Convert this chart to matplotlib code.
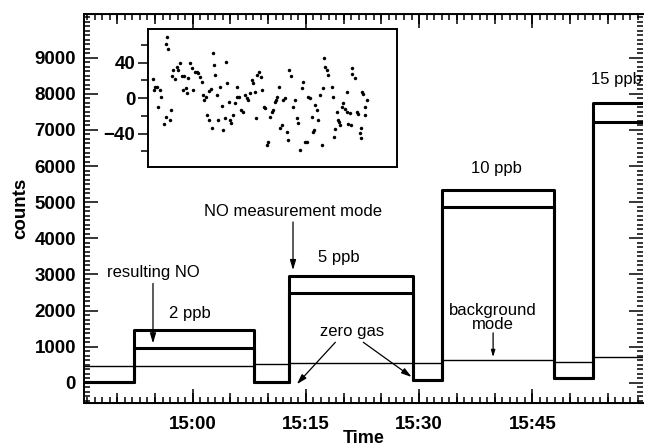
import matplotlib.pyplot as plt
from matplotlib.ticker import MultipleLocator, FuncFormatter

plt.rcParams["font.family"] = ["Liberation Sans", "DejaVu Sans"]

# time in minutes relative to 15:00
x_start = -14.36
x_end = 59.67

# mode segments: start time of each segment (zero gas / NO on alternate)
seg_start = [-14.36, -7.78, 8.16, 12.76, 29.15, 33.07, 47.87, 53.0]
upper = [10, 1450, 20, 2950, 80, 5330, 120, 7740]
lower = [10, 970, 20, 2490, 80, 4870, 120, 7230]
background = [460, 475, 510, 550, 555, 640, 585, 720]

# inset: deviation of background signal (counts) vs. sample
inset_x = [4.7, 6.0, 7.3, 8.7, 10.3, 12.0, 13.3, 16.0, 17.7, 17.7, 18.7, 20.3, 22.7, 22.0,
           23.7, 25.3, 27.0, 28.7, 30.3, 32.0, 33.7, 34.7, 36.0, 38.0, 38.7, 40.3, 42.0,
           43.7, 44.7, 47.0, 48.7, 50.3, 52.0, 53.7, 55.3, 56.0, 58.0, 59.3, 60.7, 61.3,
           62.7, 64.0, 65.3, 66.0, 67.0, 68.7, 70.3, 72.0, 73.7, 75.3, 77.0, 78.0, 79.3,
           80.7, 82.0, 83.3, 84.7, 87.0, 88.7, 89.3, 91.3, 92.7, 94.7, 97.0, 98.7, 100.3,
           102.0, 103.7, 105.3, 107.0, 108.0, 109.3, 111.3, 112.7, 113.7, 116.0, 117.3,
           118.7, 120.3, 122.0, 123.7, 125.3, 127.0, 128.0, 129.3, 130.7, 132.0, 133.7,
           135.3, 137.0, 138.7, 140.0, 141.3, 142.7, 145.3, 147.0, 148.7, 150.3, 152.0,
           153.7, 155.3, 157.0, 158.7, 160.3, 162.0, 163.7, 165.3, 166.0, 167.0, 168.7,
           170.3, 172.0, 173.7, 174.7, 176.0, 177.3, 178.7, 180.3, 183.7, 185.3, 186.0,
           187.0, 188.7, 190.0, 191.0, 192.0, 193.7, 195.3, 197.0, 198.7, 198.7, 200.3,
           202.0, 203.0, 204.3, 204.3, 207.0, 208.7, 209.7, 212.0, 213.0, 213.0, 214.3,
           215.3, 217.0, 217.0, 218.7]
inset_y = [21.4, 9.0, 12.0, 12.7, -10.6, 9.0, 1.4, -29.7, -21.1, 60.9, 68.4, 55.2, -13.6, -24.9,
           24.7, 31.5, 21.0, 35.3, 31.5, 39.0, 24.7, 9.0, 24.7, 10.8, 5.2, 22.1, 39.0,
           33.4, 9.0, 29.6, 29.6, 27.7, 24.0, 18.4, 3.3, -2.3, 1.4, -19.2, -24.9, 8.2,
           9.7, -34.2, 51.0, 37.1, 25.9, 3.3, -24.9, 12.7, -9.1, -36.1, -23.0, 40.9, 16.5,
           -4.2, -24.9, -28.6, -19.2, -6.1, 12.7, 1.4, 1.4, -13.6, -15.5, 3.3, -0.4, -2.3,
           5.2, 20.2, 16.5, 7.1, -23.0, 25.9, 29.6, 24.0, 9.0, -9.8, -11.7,
           -53.0, -49.3, -21.1, -15.5, -13.6, -4.2, -2.3, 1.4, 12.7, -34.2, -30.5,
           -2.3, -0.4, -38.0, -47.4, 31.5, 24.7, -9.8, -2.3, -23.0, -28.6, -58.7,
           10.8, 18.4, -49.3, -49.3, 1.4, -0.4, -21.1, -38.0, -36.1, -7.9, -13.6,
           -24.9, 3.3, -53.0, 10.8, 44.7, 35.3, 31.5, 25.9, 12.7, 1.5, -43.6,
           -34.9, -15.4, -24.8, -27.4, -30.4, -9.8, -6.0, -12.4, 7.1, -16.1, -29.6,
           -17.2, -30.4, 34.1, 26.7, 22.2, -16.1, -18.4, -39.8, -34.1, -45.4, 7.1,
           4.2, -9.8, -19.2, -2.3]

fig = plt.figure(figsize=(6.46, 4.46), dpi=100)
ax = fig.add_axes([0.1305, 0.0957, 0.865, 0.8729])

tx = seg_start + [x_end]
ax.plot(tx, background + [background[-1]], drawstyle="steps-post", color="black", lw=1.0)
ax.plot(tx, lower + [lower[-1]], drawstyle="steps-post", color="black", lw=2.2)
ax.plot(tx, upper + [upper[-1]], drawstyle="steps-post", color="black", lw=2.2)

ax.set_xlim(x_start, x_end)
ax.set_ylim(-570, 10210)

ax.set_xticks([0, 15, 30, 45])
ax.xaxis.set_major_formatter(FuncFormatter(lambda m, p: "15:%02d" % int(round(m))))
ax.xaxis.set_minor_locator(MultipleLocator(1))
ax.set_yticks(range(0, 10000, 1000))
ax.yaxis.set_minor_locator(MultipleLocator(125))
ax.tick_params(which="both", direction="in", top=True, right=True, width=1.1)
ax.tick_params(which="major", length=10, labelsize=13.5, pad=6)
ax.tick_params(axis="x", which="major", pad=9)
ax.tick_params(which="minor", length=4)
for lab in ax.get_xticklabels() + ax.get_yticklabels():
    lab.set_fontweight("bold")
ax.spines["right"].set_visible(False)
for s in ["left", "top", "bottom"]:
    ax.spines[s].set_linewidth(1.4)

# medium ticks every 5 minutes
for loc in ["bottom", "top"]:
    sec = ax.secondary_xaxis(loc)
    sec.set_xticks(range(-10, 60, 5))
    sec.set_xticklabels([])
    sec.tick_params(direction="in", length=7, width=1.1)

ax.set_xlabel("Time", fontsize=13, fontweight="bold", labelpad=-2)
ax.set_ylabel("counts", fontsize=13.5, fontweight="bold", labelpad=4)

arrow = dict(arrowstyle="-|>,head_width=0.18,head_length=0.6", color="black", lw=0.9,
             shrinkA=0, shrinkB=0)
fs = 12
ax.text(-5.26, 3040, "resulting NO", ha="center", va="center", fontsize=fs)
ax.annotate("", xy=(-5.26, 1090), xytext=(-5.26, 2750), arrowprops=arrow)
ax.text(-0.36, 1920, "2 ppb", ha="center", va="center", fontsize=fs)
ax.text(13.29, 4740, "NO measurement mode", ha="center", va="center", fontsize=fs)
ax.annotate("", xy=(13.29, 3120), xytext=(13.29, 4450), arrowprops=arrow)
ax.text(19.4, 3480, "5 ppb", ha="center", va="center", fontsize=fs)
ax.text(40.3, 5940, "10 ppb", ha="center", va="center", fontsize=fs)
ax.text(56.2, 8385, "15 ppb", ha="center", va="center", fontsize=fs, clip_on=False)
ax.text(21.1, 1410, "zero gas", ha="center", va="center", fontsize=fs)
ax.annotate("", xy=(13.8, -40), xytext=(18.9, 1120), arrowprops=arrow)
ax.annotate("", xy=(29.0, 160), xytext=(22.6, 1120), arrowprops=arrow)
ax.text(39.8, 1800, "background\nmode", ha="center", va="center", fontsize=fs,
        linespacing=0.95)
ax.annotate("", xy=(39.8, 710), xytext=(39.8, 1380),
            arrowprops=dict(arrowstyle="-|>,head_width=0.12,head_length=0.4",
                            color="black", lw=0.9, shrinkA=0, shrinkB=0))

# inset
ins = fig.add_axes([0.2287, 0.6262, 0.3854, 0.3087])
ins.plot(inset_x, inset_y, "o", color="black", markersize=2.5, markeredgewidth=0)
ins.set_xlim(-0.3, 248.7)
ins.set_ylim(-77.4, 77.8)
ins.set_xticks([])
ins.set_yticks([-40, 0, 40])
ins.yaxis.set_minor_locator(MultipleLocator(20))
ins.tick_params(which="major", direction="out", length=7, width=1.1, labelsize=13.5, pad=2)
ins.tick_params(which="minor", direction="out", length=5, width=1.1)
for lab in ins.get_yticklabels():
    lab.set_fontweight("bold")
for s in ins.spines.values():
    s.set_linewidth(1.4)

fig.savefig("out.png", dpi=100)
